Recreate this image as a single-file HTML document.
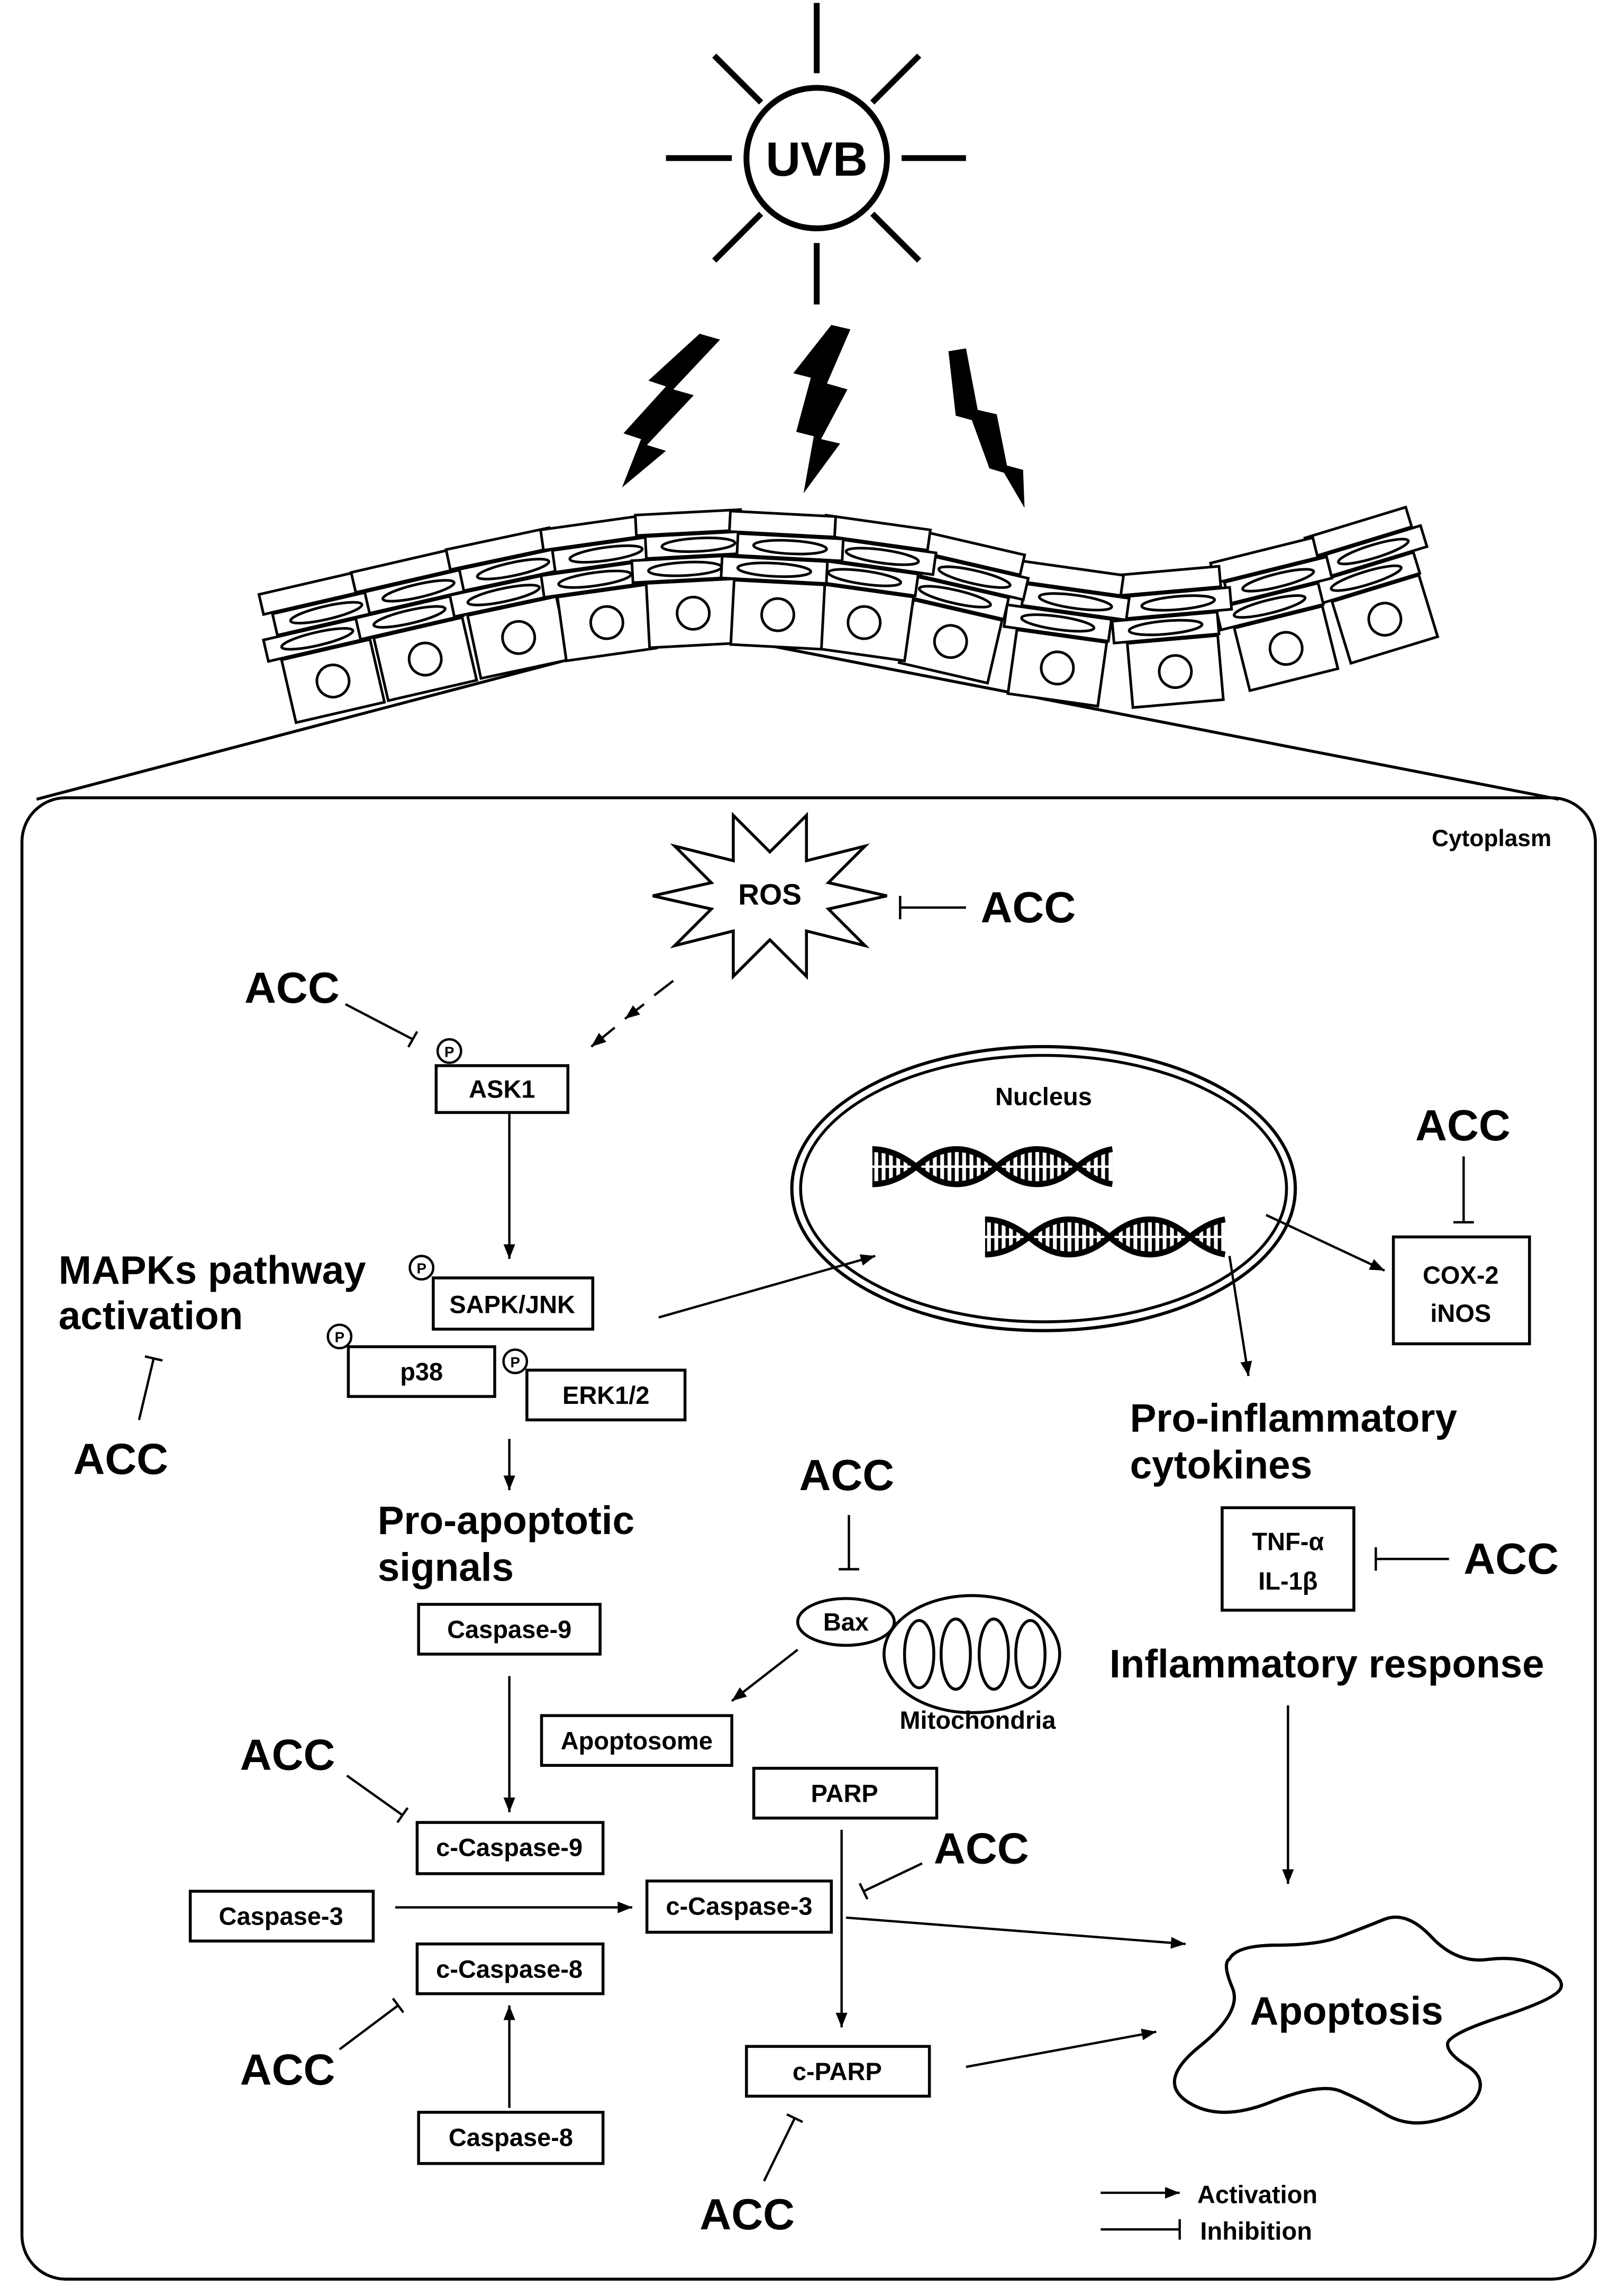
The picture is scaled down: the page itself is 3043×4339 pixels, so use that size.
<!DOCTYPE html>
<html><head><meta charset="utf-8"><style>
html,body{margin:0;padding:0;background:#fff;}
svg{display:block;}
text{font-family:"Liberation Sans",Arial,sans-serif;font-weight:bold;fill:#000;}
</style></head><body>
<svg xmlns="http://www.w3.org/2000/svg" width="3043" height="4339" viewBox="0 0 1100 1568.5" preserveAspectRatio="none">
<defs>
<marker id="ar" markerUnits="userSpaceOnUse" markerWidth="12" markerHeight="10" refX="10" refY="4" orient="auto"><path d="M0,0 L10,4 L0,8 Z" fill="#000"/></marker>
<pattern id="st" width="5" height="40" patternUnits="userSpaceOnUse"><rect x="0" y="0" width="2.4" height="40" fill="#000"/></pattern>
<clipPath id="dc"><path d="M596,809 Q611,809 626,797 C644,781 663,781 681,797 C699,813 718,813 736,797 Q748,787 760,785 L760,809 Q748,807 736,797 C718,781 699,781 681,797 C663,813 644,813 626,797 Q611,785 596,785 Z"/></clipPath>
<g id="dna">
<rect x="596" y="780" width="164" height="34" fill="url(#st)" clip-path="url(#dc)"/>
<line x1="596" y1="797" x2="760" y2="797" stroke="#fff" stroke-width="1.6"/>
<path d="M596,809 Q611,809 626,797 C644,781 663,781 681,797 C699,813 718,813 736,797 Q748,787 760,785" fill="none" stroke="#000" stroke-width="4"/>
<path d="M596,785 Q611,785 626,797 C644,813 663,813 681,797 C699,781 718,781 736,797 Q748,807 760,809" fill="none" stroke="#000" stroke-width="4"/>
</g>
<g id="cell">
<rect x="-36" y="0" width="72" height="14" fill="#fff" stroke="#000" stroke-width="1.8"/>
<rect x="-30" y="15" width="72" height="15" fill="#fff" stroke="#000" stroke-width="1.8"/>
<ellipse cx="6" cy="22.5" rx="25" ry="4.5" fill="none" stroke="#000" stroke-width="1.8"/>
<rect x="-40" y="31" width="72" height="15" fill="#fff" stroke="#000" stroke-width="1.8"/>
<ellipse cx="-4" cy="38.5" rx="25" ry="4.5" fill="none" stroke="#000" stroke-width="1.8"/>
<rect x="-31" y="47" width="62" height="44" fill="#fff" stroke="#000" stroke-width="1.8"/>
<circle cx="0" cy="69" r="11" fill="none" stroke="#000" stroke-width="1.8"/>
</g>
</defs>

<!-- Sun -->
<circle cx="558" cy="108" r="48" fill="none" stroke="#000" stroke-width="4"/>
<g stroke="#000" stroke-width="4">
<line x1="558" y1="2" x2="558" y2="50"/><line x1="558" y1="166" x2="558" y2="208"/>
<line x1="455" y1="108" x2="500" y2="108"/><line x1="616" y1="108" x2="660" y2="108"/>
<line x1="488" y1="38" x2="520" y2="70"/><line x1="628" y1="38" x2="596" y2="70"/>
<line x1="488" y1="178" x2="520" y2="146"/><line x1="628" y1="178" x2="596" y2="146"/>
</g>
<text x="558" y="120" font-size="33" text-anchor="middle">UVB</text>

<!-- Lightning -->
<polygon points="478,228 492,232 460,266 474,270 442,304 455,308 425,333 438,300 426,296 455,264 443,260" fill="#000"/>
<polygon points="568,222 581,225 565,262 579,266 561,300 574,303 549,337 556,298 544,295 554,258 542,255" fill="#000"/>
<polygon points="648,240 660,238 668,280 681,283 688,318 699,321 700,347 686,323 676,320 664,287 653,284" fill="#000"/>

<!-- zoom lines -->
<line x1="25" y1="546" x2="440" y2="437" stroke="#000" stroke-width="2"/>
<line x1="505" y1="437" x2="1065" y2="546" stroke="#000" stroke-width="2"/>

<!-- skin -->
<use href="#cell" transform="translate(212,398) rotate(-13)"/>
<use href="#cell" transform="translate(275,383) rotate(-13)"/>
<use href="#cell" transform="translate(340,368) rotate(-12)"/>
<use href="#cell" transform="translate(405,357) rotate(-8)"/>
<use href="#cell" transform="translate(470,350) rotate(-3)"/>
<use href="#cell" transform="translate(926,357) rotate(-17)"/>
<use href="#cell" transform="translate(862,376) rotate(-14)"/>
<use href="#cell" transform="translate(797,390) rotate(-5)"/>
<use href="#cell" transform="translate(732,388) rotate(8)"/>
<use href="#cell" transform="translate(665,371) rotate(13)"/>
<use href="#cell" transform="translate(600,357) rotate(8)"/>
<use href="#cell" transform="translate(535,351) rotate(3)"/>

<!-- container -->
<rect x="15" y="545" width="1075" height="1012" rx="30" fill="none" stroke="#000" stroke-width="2"/>
<text x="1060" y="578" font-size="16" text-anchor="end">Cytoplasm</text>

<!-- ROS -->
<polygon points="606,612 566,621 591,646 551,636 551,667 526,642 501,667 501,636 461,646 486,621 446,612 486,603 461,578 501,588 501,557 526,582 551,557 551,588 591,578 566,603" fill="#fff" stroke="#000" stroke-width="2"/>
<text x="526" y="618" font-size="20" text-anchor="middle">ROS</text>
<line x1="615" y1="620" x2="660" y2="620" stroke="#000" stroke-width="1.6"/><line x1="615" y1="612" x2="615" y2="628" stroke="#000" stroke-width="1.6"/>
<text x="670" y="630" font-size="30">ACC</text>

<g stroke="#000" stroke-width="1.6" fill="none">
<line x1="460" y1="670" x2="447" y2="680"/>
<line x1="440" y1="686" x2="427" y2="696" marker-end="url(#ar)"/>
<line x1="420" y1="702" x2="404" y2="715" marker-end="url(#ar)"/>
</g>

<!-- ASK1 area -->
<text x="167" y="685" font-size="30">ACC</text>
<g stroke="#000" stroke-width="1.6"><line x1="236" y1="686" x2="282" y2="710"/><line x1="279" y1="715.3" x2="285" y2="704.7"/></g>
<g fill="#fff" stroke="#000" stroke-width="1.6">
<circle cx="307" cy="718" r="8"/><circle cx="288" cy="866" r="8"/><circle cx="232" cy="913" r="8"/><circle cx="352" cy="930" r="8"/>
</g>
<g font-size="10" text-anchor="middle"><text x="307" y="722">P</text><text x="288" y="870">P</text><text x="232" y="917">P</text><text x="352" y="934">P</text></g>

<g fill="#fff" stroke="#000" stroke-width="2">
<rect x="298" y="728" width="90" height="32"/>
<rect x="296" y="873" width="109" height="35"/>
<rect x="238" y="920" width="100" height="34"/>
<rect x="360" y="936" width="108" height="34"/>
<rect x="952" y="845" width="93" height="73"/>
<rect x="835" y="1030" width="90" height="70"/>
<rect x="286" y="1096" width="124" height="34"/>
<rect x="370" y="1172" width="130" height="34"/>
<rect x="515" y="1208" width="125" height="34"/>
<rect x="285" y="1245" width="127" height="35"/>
<rect x="130" y="1292" width="125" height="34"/>
<rect x="442" y="1285" width="126" height="35"/>
<rect x="285" y="1328" width="127" height="34"/>
<rect x="286" y="1443" width="126" height="35"/>
<rect x="510" y="1398" width="125" height="34"/>
</g>
<g font-size="17" text-anchor="middle">
<text x="343" y="750">ASK1</text>
<text x="350" y="897">SAPK/JNK</text>
<text x="288" y="943">p38</text>
<text x="414" y="959">ERK1/2</text>
<text x="998" y="877">COX-2</text>
<text x="998" y="903">iNOS</text>
<text x="880" y="1059">TNF-α</text>
<text x="880" y="1086">IL-1β</text>
<text x="348" y="1119">Caspase-9</text>
<text x="435" y="1195">Apoptosome</text>
<text x="577" y="1231">PARP</text>
<text x="348" y="1268">c-Caspase-9</text>
<text x="192" y="1315">Caspase-3</text>
<text x="505" y="1308">c-Caspase-3</text>
<text x="348" y="1351">c-Caspase-8</text>
<text x="349" y="1466">Caspase-8</text>
<text x="572" y="1421">c-PARP</text>
</g>

<g stroke="#000" stroke-width="1.6" fill="none">
<line x1="348" y1="760" x2="348" y2="860" marker-end="url(#ar)"/>
<line x1="450" y1="900" x2="598" y2="858" marker-end="url(#ar)"/>
<line x1="865" y1="830" x2="946" y2="868" marker-end="url(#ar)"/>
<line x1="840" y1="858" x2="853" y2="940" marker-end="url(#ar)"/>
<line x1="880" y1="1165" x2="880" y2="1287" marker-end="url(#ar)"/>
<line x1="348" y1="983" x2="348" y2="1018" marker-end="url(#ar)"/>
<line x1="348" y1="1145" x2="348" y2="1238" marker-end="url(#ar)"/>
<line x1="545" y1="1127" x2="500" y2="1162" marker-end="url(#ar)"/>
<line x1="270" y1="1303" x2="432" y2="1303" marker-end="url(#ar)"/>
<line x1="575" y1="1250" x2="575" y2="1385" marker-end="url(#ar)"/>
<line x1="578" y1="1310" x2="810" y2="1328" marker-end="url(#ar)"/>
<line x1="348" y1="1440" x2="348" y2="1370" marker-end="url(#ar)"/>
<line x1="660" y1="1412" x2="790" y2="1388" marker-end="url(#ar)"/>
<line x1="752" y1="1498" x2="806" y2="1498" marker-end="url(#ar)"/>
<line x1="95" y1="970" x2="105" y2="928"/><line x1="99" y1="926.6" x2="111" y2="929.4"/>
<line x1="1000" y1="790" x2="1000" y2="835"/><line x1="993" y1="835" x2="1007" y2="835"/>
<line x1="940" y1="1065" x2="990" y2="1065"/><line x1="940" y1="1057" x2="940" y2="1073"/>
<line x1="580" y1="1035" x2="580" y2="1072"/><line x1="573" y1="1072" x2="587" y2="1072"/>
<line x1="237" y1="1213" x2="275" y2="1240"/><line x1="271.5" y1="1245" x2="278.5" y2="1235"/>
<line x1="630" y1="1273" x2="590" y2="1292"/><line x1="587.4" y1="1286.6" x2="592.6" y2="1297.4"/>
<line x1="232" y1="1400" x2="272" y2="1370"/><line x1="268.4" y1="1365.2" x2="275.6" y2="1374.8"/>
<line x1="522" y1="1490" x2="543" y2="1447"/><line x1="537.6" y1="1444.4" x2="548.4" y2="1449.6"/>
<line x1="752" y1="1523" x2="806" y2="1523"/><line x1="806" y1="1516" x2="806" y2="1530"/>
</g>

<!-- Nucleus -->
<ellipse cx="713" cy="812" rx="172" ry="97" fill="none" stroke="#000" stroke-width="2.2"/>
<ellipse cx="713" cy="812" rx="166" ry="91" fill="none" stroke="#000" stroke-width="2"/>
<text x="713" y="755" font-size="17" text-anchor="middle">Nucleus</text>
<use href="#dna"/>
<use href="#dna" transform="translate(77,48)"/>

<!-- Mitochondria -->
<ellipse cx="664" cy="1130" rx="60" ry="40" fill="#fff" stroke="#000" stroke-width="2"/>
<g fill="none" stroke="#000" stroke-width="2">
<ellipse cx="628" cy="1130" rx="10" ry="23"/><ellipse cx="653" cy="1130" rx="10" ry="24"/><ellipse cx="679" cy="1130" rx="10" ry="24"/><ellipse cx="704" cy="1130" rx="10" ry="23"/>
</g>
<ellipse cx="578" cy="1108" rx="33" ry="16" fill="#fff" stroke="#000" stroke-width="2"/>
<text x="578" y="1114" font-size="17" text-anchor="middle">Bax</text>
<text x="668" y="1181" font-size="17" text-anchor="middle">Mitochondria</text>

<!-- Apoptosis blob -->
<path d="M945.5,1311.3 Q961,1305 978,1323.2 Q995,1341.4 1016.5,1338.6 Q1038,1335.8 1054,1343.9 Q1070,1351.9 1066,1358.9 Q1062,1365.9 1025.5,1377.8 Q989,1389.7 989,1396.4 Q989,1403 1002,1411 Q1015,1419.1 1010,1430.3 Q1005,1441.5 984,1447.8 Q963,1454.1 946.5,1444.3 Q930,1434.5 916,1428.6 Q902,1422.6 867.5,1436.3 Q833,1449.9 811.5,1435.9 Q790,1421.9 819.5,1398.1 Q849,1374.3 842,1357.9 Q835,1341.4 840,1338.3 Q845,1328.8 872.5,1328.8 Q900,1328.8 915,1323.2 Q930,1317.6 945.5,1311.3 Z" fill="none" stroke="#000" stroke-width="2.2"/>
<text x="920" y="1383" font-size="27" text-anchor="middle">Apoptosis</text>

<!-- big labels -->
<g font-size="27">
<text x="40" y="877">MAPKs pathway</text>
<text x="40" y="908">activation</text>
<text x="772" y="978">Pro-inflammatory</text>
<text x="772" y="1010">cytokines</text>
<text x="758" y="1146">Inflammatory response</text>
<text x="258" y="1048">Pro-apoptotic</text>
<text x="258" y="1080">signals</text>
</g>
<g font-size="30">
<text x="50" y="1007">ACC</text>
<text x="967" y="779">ACC</text>
<text x="1000" y="1075">ACC</text>
<text x="546" y="1018">ACC</text>
<text x="164" y="1209">ACC</text>
<text x="638" y="1273">ACC</text>
<text x="164" y="1424">ACC</text>
<text x="478" y="1523">ACC</text>
</g>
<g font-size="17">
<text x="818" y="1505">Activation</text>
<text x="820" y="1530">Inhibition</text>
</g>
</svg>
</body></html>
